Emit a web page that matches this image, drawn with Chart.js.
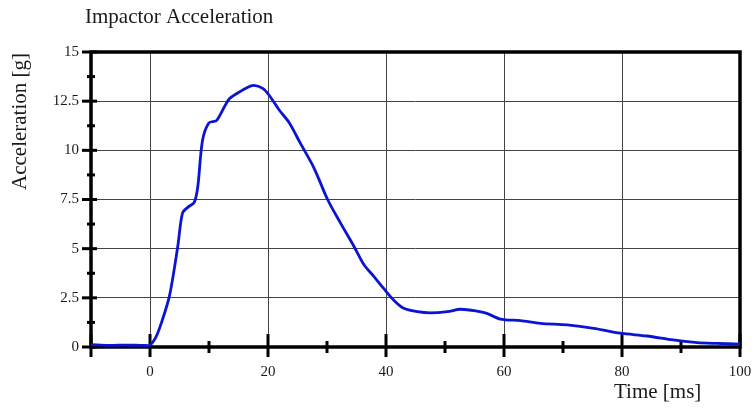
<!DOCTYPE html>
<html>
<head>
<meta charset="utf-8">
<script src="https://cdn.jsdelivr.net/npm/chart.js@4"></script>
<style>
  html, body { margin: 0; padding: 0; background: #fff; }
  #wrap { width: 755px; height: 408px; position: relative; }
</style>
</head>
<body>
<div id="wrap"><canvas id="chart"></canvas></div>
<script>
// values
const timeMs = [-10, -7, -4, -1, 0, 1, 1.9, 3.3, 4.7, 5.5, 6.4, 7.5, 8.1, 8.9, 10.0, 11.2, 11.7, 13.4, 14.8, 16.5, 17.6, 19.1, 20.2, 21.9, 23.6, 25.5, 27.8, 30.1, 32.3, 34.6, 36.3, 38.0, 39.6, 41.3, 43.0, 45.3, 47.5, 50.4, 52.6, 55.4, 57.1, 59.4, 62.8, 66.2, 70.7, 75.2, 79.7, 84.2, 88.7, 92.7, 96, 100]
const accelG = [0.12, 0.08, 0.1, 0.08, 0.1, 0.5, 1.2, 2.6, 5.1, 6.8, 7.1, 7.35, 8.15, 10.5, 11.4, 11.5, 11.7, 12.6, 12.9, 13.2, 13.3, 13.15, 12.8, 12.05, 11.4, 10.35, 9.1, 7.5, 6.3, 5.1, 4.17, 3.57, 2.98, 2.39, 1.97, 1.8, 1.74, 1.8, 1.92, 1.83, 1.71, 1.42, 1.34, 1.2, 1.12, 0.95, 0.7, 0.56, 0.36, 0.22, 0.18, 0.15]

const xMajorTicks = [0, 20, 40, 60, 80, 100]
const xMinorTicks = [10, 30, 50, 70, 90]
const yMajorTicks = [0, 2.5, 5, 7.5, 10, 12.5, 15]
const yMinorTicks = [1.25, 3.75, 6.25, 8.75, 11.25, 13.75]

const chartTitle = "Impactor Acceleration"
const xTitle = "Time [ms]"
const yTitle = "Acceleration [g]"

const serif = "'Liberation Serif', 'Times New Roman', serif"

// frame + hand-sized tick marks, drawn under the curve
const frame = {
  id: "frame",
  beforeDatasetsDraw(chart) {
    const { ctx, chartArea: a, scales: { x, y } } = chart
    ctx.save()
    ctx.strokeStyle = "#000"
    ctx.lineCap = "butt"

    ctx.lineWidth = 3.5
    ctx.strokeRect(a.left, a.top, a.right - a.left, a.bottom - a.top)

    ctx.lineWidth = 3
    xMajorTicks.concat([-10]).forEach(v => {
      const px = x.getPixelForValue(v)
      ctx.beginPath(); ctx.moveTo(px, a.bottom - 13); ctx.lineTo(px, a.bottom + 10); ctx.stroke()
    })
    xMinorTicks.forEach(v => {
      const px = x.getPixelForValue(v)
      ctx.beginPath(); ctx.moveTo(px, a.bottom - 6); ctx.lineTo(px, a.bottom + 6); ctx.stroke()
    })
    yMajorTicks.forEach(v => {
      const py = y.getPixelForValue(v)
      ctx.beginPath(); ctx.moveTo(a.left - 9, py); ctx.lineTo(a.left + 6, py); ctx.stroke()
    })
    yMinorTicks.forEach(v => {
      const py = y.getPixelForValue(v)
      ctx.beginPath(); ctx.moveTo(a.left - 4, py); ctx.lineTo(a.left + 4, py); ctx.stroke()
    })
    ctx.restore()
  },
  afterDraw(chart) {
    const { ctx } = chart
    ctx.save()
    ctx.fillStyle = "#1a1a1a"
    ctx.font = "21px " + serif
    ctx.textAlign = "left"
    ctx.textBaseline = "alphabetic"
    ctx.fillText(chartTitle, 85, 23)
    ctx.fillText(xTitle, 614, 398)
    ctx.translate(26, 190)
    ctx.rotate(-Math.PI / 2)
    ctx.fillText(yTitle, 0, 0)
    ctx.restore()
  }
}

new Chart(document.getElementById("chart"), {
  type: "line",
  data: {
    datasets: [{
      data: timeMs.map((t, i) => ({ x: t, y: accelG[i] })),
      borderColor: "#0a14d2",
      borderWidth: 2.8,
      pointRadius: 0,
      tension: 0.3,
      fill: false
    }]
  },
  options: {
    responsive: true,
    maintainAspectRatio: false,
    animation: false,
    layout: { padding: { left: 0, top: 52, right: 15, bottom: 0 } },
    plugins: { legend: { display: false }, tooltip: { enabled: false } },
    scales: {
      x: {
        type: "linear",
        min: -10,
        max: 100,
        afterBuildTicks: s => { s.ticks = xMajorTicks.concat(xMinorTicks).sort((p, q) => p - q).map(v => ({ value: v })) },
        afterFit: s => { s.height = 61; s.paddingLeft = 0; s.paddingRight = 0 },
        border: { display: false },
        grid: {
          drawTicks: false,
          color: c => (c.tick && c.tick.value % 20 === 0 && c.tick.value > -10 && c.tick.value < 100) ? "#444" : "rgba(0,0,0,0)",
          lineWidth: 1
        },
        ticks: {
          autoSkip: false,
          maxRotation: 0,
          padding: 16,
          color: "#1a1a1a",
          font: { family: serif, size: 15 },
          callback: v => v % 20 === 0 ? v : ""
        }
      },
      y: {
        min: 0,
        max: 15,
        afterBuildTicks: s => { s.ticks = yMajorTicks.map(v => ({ value: v })) },
        afterFit: s => { s.width = 91; s.paddingTop = 0; s.paddingBottom = 0 },
        border: { display: false },
        grid: {
          drawTicks: false,
          color: c => (c.tick && c.tick.value > 0 && c.tick.value < 15) ? "#444" : "rgba(0,0,0,0)",
          lineWidth: 1
        },
        ticks: {
          padding: 12,
          color: "#1a1a1a",
          font: { family: serif, size: 15 }
        }
      }
    }
  },
  plugins: [frame]
})
</script>
</body>
</html>
